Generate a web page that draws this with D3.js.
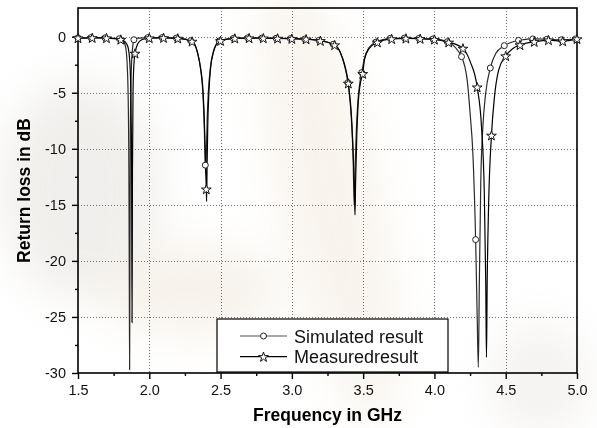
<!DOCTYPE html>
<html>
<head>
<meta charset="utf-8">
<script src="https://cdn.jsdelivr.net/npm/d3@7"></script>
<style>
    body { margin: 0; background: #fff; }
    svg { display: block; font-family: "Liberation Sans", Arial, sans-serif; }
</style>
</head>
<body>
<div id="chart"></div>
<script>
// x axis ticks
const xMajor = [1.5, 2.0, 2.5, 3.0, 3.5, 4.0, 4.5, 5.0];
const xMinor = [1.75, 2.25, 2.75, 3.25, 3.75, 4.25, 4.75];
// y axis ticks
const yMajor = [0, -5, -10, -15, -20, -25, -30];
const yMinor = [-2.5, -7.5, -12.5, -17.5, -22.5, -27.5];

// simulated result (line)
const simFreq = [1.50, 1.60, 1.70, 1.80, 1.82, 1.835, 1.845, 1.852, 1.857, 1.860, 1.862, 1.864, 1.867, 1.871, 1.877, 1.884, 1.892, 1.92, 2.00, 2.10, 2.20, 2.30, 2.34, 2.36, 2.375, 2.385, 2.393, 2.397, 2.401, 2.407, 2.415, 2.43, 2.45, 2.47, 2.50, 2.60, 2.70, 2.80, 2.90, 3.00, 3.10, 3.20, 3.30, 3.34, 3.37, 3.393, 3.418, 3.430, 3.437, 3.443, 3.452, 3.463, 3.478, 3.49, 3.51, 3.54, 3.59, 3.69, 3.79, 3.89, 4.00, 4.09, 4.19, 4.23, 4.25, 4.27, 4.289, 4.30, 4.308, 4.315, 4.325, 4.34, 4.36, 4.392, 4.43, 4.49, 4.59, 4.69, 4.79, 4.89, 5.00];
const simDb = [-0.10, -0.08, -0.10, -0.20, -0.40, -1.0, -2.5, -5.5, -12, -22, -29.7, -20, -9, -4.5, -2.0, -0.9, -0.27, -0.12, -0.08, -0.08, -0.12, -0.40, -1.5, -2.9, -4.8, -7.8, -11.46, -12.2, -10, -7, -4.8, -2.6, -1.3, -0.65, -0.33, -0.15, -0.10, -0.12, -0.14, -0.17, -0.22, -0.35, -0.72, -1.4, -2.6, -4.1, -7.5, -11, -15.0, -12, -8.5, -5.8, -4.0, -3.2, -1.9, -1.0, -0.48, -0.15, -0.12, -0.15, -0.20, -0.45, -1.78, -3.9, -6.8, -10.5, -18.1, -25, -29.5, -22, -13, -8, -5, -2.79, -1.5, -0.80, -0.33, -0.20, -0.22, -0.28, -0.20];
// simulated result (circle markers)
const simMarkFreq = [1.50, 1.59, 1.69, 1.79, 1.892, 1.99, 2.09, 2.19, 2.29, 2.393, 2.49, 2.59, 2.69, 2.79, 2.89, 2.99, 3.09, 3.19, 3.29, 3.393, 3.49, 3.59, 3.69, 3.79, 3.89, 3.99, 4.09, 4.19, 4.289, 4.392, 4.49, 4.59, 4.69, 4.79, 4.89, 4.99];
const simMarkDb = [-0.10, -0.08, -0.10, -0.18, -0.27, -0.08, -0.08, -0.12, -0.36, -11.46, -0.38, -0.15, -0.10, -0.12, -0.14, -0.17, -0.21, -0.33, -0.68, -4.1, -3.2, -0.48, -0.15, -0.12, -0.15, -0.20, -0.45, -1.78, -18.1, -2.79, -0.80, -0.33, -0.20, -0.22, -0.28, -0.20];

// measured result (line)
const measFreq = [1.50, 1.60, 1.70, 1.80, 1.83, 1.85, 1.862, 1.870, 1.876, 1.879, 1.882, 1.886, 1.892, 1.90, 1.92, 1.95, 2.00, 2.10, 2.20, 2.30, 2.34, 2.36, 2.375, 2.385, 2.392, 2.397, 2.400, 2.402, 2.405, 2.41, 2.418, 2.43, 2.45, 2.47, 2.50, 2.60, 2.70, 2.80, 2.90, 3.00, 3.10, 3.20, 3.30, 3.34, 3.37, 3.396, 3.42, 3.432, 3.440, 3.443, 3.447, 3.455, 3.465, 3.48, 3.497, 3.51, 3.54, 3.60, 3.70, 3.80, 3.90, 4.00, 4.10, 4.20, 4.25, 4.30, 4.33, 4.35, 4.36, 4.365, 4.37, 4.38, 4.40, 4.42, 4.45, 4.50, 4.55, 4.60, 4.70, 4.80, 4.90, 5.00];
const measDb = [-0.12, -0.10, -0.12, -0.25, -0.45, -0.9, -2.0, -4.5, -12, -25.5, -12, -5, -2.5, -1.49, -0.6, -0.25, -0.12, -0.10, -0.15, -0.42, -1.5, -2.8, -4.5, -7, -10, -12.5, -13.6, -14.7, -12, -8, -5, -2.8, -1.4, -0.7, -0.36, -0.15, -0.12, -0.13, -0.15, -0.18, -0.22, -0.36, -0.74, -1.4, -2.5, -4.16, -7.5, -11, -14.5, -15.9, -13, -9, -6, -4.2, -3.3, -2.0, -1.1, -0.50, -0.20, -0.15, -0.18, -0.25, -0.50, -1.04, -2.2, -4.5, -8, -14, -22, -28.6, -22, -15, -8.8, -5.5, -3.0, -1.72, -1.05, -0.74, -0.45, -0.30, -0.40, -0.20];
// measured result (star markers)
const measMarkFreq = [1.5, 1.6, 1.7, 1.8, 1.9, 2.0, 2.1, 2.2, 2.3, 2.4, 2.5, 2.6, 2.7, 2.8, 2.9, 3.0, 3.1, 3.2, 3.3, 3.396, 3.497, 3.6, 3.7, 3.8, 3.9, 4.0, 4.1, 4.2, 4.3, 4.4, 4.5, 4.6, 4.7, 4.8, 4.9, 5.0];
const measMarkDb = [-0.12, -0.10, -0.12, -0.25, -1.49, -0.12, -0.10, -0.15, -0.42, -13.6, -0.36, -0.15, -0.12, -0.13, -0.15, -0.18, -0.22, -0.36, -0.74, -4.16, -3.3, -0.50, -0.20, -0.15, -0.18, -0.25, -0.50, -1.04, -4.5, -8.8, -1.72, -0.74, -0.45, -0.30, -0.40, -0.20];

const seriesNames = ["Simulated result", "Measuredresult"];

const paintChart = () => {
    const width = 597, height = 428;
    const left = 78, right = 577, top = 8, bottom = 373;

    const svg = d3.select("#chart").append("svg")
        .attr("width", width)
        .attr("height", height);

    // faint watermark behind the plot
    const defs = svg.append("defs");
    defs.append("filter").attr("id", "blur")
        .attr("x", "-50%").attr("y", "-50%").attr("width", "200%").attr("height", "200%")
        .append("feGaussianBlur").attr("stdDeviation", 22);
    const wm = svg.append("g").attr("filter", "url(#blur)").attr("opacity", 0.35);
    wm.append("ellipse").attr("cx", 80).attr("cy", 190).attr("rx", 80).attr("ry", 110).attr("fill", "#d6d2ca");
    wm.append("ellipse").attr("cx", 190).attr("cy", 290).attr("rx", 90).attr("ry", 45).attr("fill", "#e6dac6");
    wm.append("ellipse").attr("cx", 330).attr("cy", 200).attr("rx", 50).attr("ry", 230)
        .attr("transform", "rotate(-12 330 200)").attr("fill", "#ece0cc");
    wm.append("ellipse").attr("cx", 540).attr("cy", 380).attr("rx", 50).attr("ry", 60).attr("fill", "#e2ded8");

    const x = d3.scaleLinear().domain([1.5, 5.0]).range([left, right]);
    const y = d3.scaleLinear().domain([-30, 2.56]).range([bottom, top]);

    // grid
    const grid = svg.append("g")
        .attr("stroke", "#707070")
        .attr("stroke-width", 1)
        .attr("stroke-dasharray", "1,2");
    grid.selectAll(".gx").data(xMajor.slice(1, -1)).enter().append("line")
        .attr("x1", d => Math.round(x(d)) + 0.5).attr("x2", d => Math.round(x(d)) + 0.5)
        .attr("y1", top).attr("y2", bottom);
    grid.selectAll(".gy").data(yMajor.slice(0, -1)).enter().append("line")
        .attr("x1", left).attr("x2", right)
        .attr("y1", d => Math.round(y(d)) + 0.5).attr("y2", d => Math.round(y(d)) + 0.5);

    // axes
    svg.append("g").attr("transform", `translate(0,${bottom})`)
        .call(d3.axisBottom(x).tickValues(xMajor).tickSize(6).tickSizeOuter(0).tickPadding(6)
            .tickFormat(d => d.toFixed(1)));
    svg.append("g").attr("transform", `translate(0,${bottom})`)
        .call(d3.axisBottom(x).tickValues(xMinor).tickSize(3).tickSizeOuter(0).tickFormat(""));
    svg.append("g").attr("transform", `translate(${left},0)`)
        .call(d3.axisLeft(y).tickValues(yMajor).tickSize(6).tickSizeOuter(0).tickPadding(6)
            .tickFormat(d => String(d)));
    svg.append("g").attr("transform", `translate(${left},0)`)
        .call(d3.axisLeft(y).tickValues(yMinor).tickSize(3).tickSizeOuter(0).tickFormat(""));

    svg.selectAll(".domain").remove();
    svg.selectAll(".tick line").attr("stroke", "#000").attr("stroke-width", 1.4);
    svg.selectAll(".tick text")
        .attr("font-family", "'Liberation Sans', Arial, sans-serif")
        .attr("font-size", 14.5)
        .attr("fill", "#111");

    // frame
    svg.append("rect")
        .attr("x", left).attr("y", top)
        .attr("width", right - left).attr("height", bottom - top)
        .attr("fill", "none").attr("stroke", "#000").attr("stroke-width", 1.6);

    // data
    const simData = simFreq.map((f, i) => [f, simDb[i]]);
    const measData = measFreq.map((f, i) => [f, measDb[i]]);
    const simMarks = simMarkFreq.map((f, i) => [f, simMarkDb[i]]);
    const measMarks = measMarkFreq.map((f, i) => [f, measMarkDb[i]]);

    const line = d3.line()
        .x(d => x(d[0]))
        .y(d => y(d[1]))
        .curve(d3.curveMonotoneX);

    const plot = svg.append("g");
    plot.append("path").datum(simData)
        .attr("d", line).attr("fill", "none")
        .attr("stroke", "#2a2a2a").attr("stroke-width", 1.2);
    plot.append("path").datum(measData)
        .attr("d", line).attr("fill", "none")
        .attr("stroke", "#000").attr("stroke-width", 1.2);

    const star = d3.symbol(d3.symbolStar, 30);

    plot.selectAll(".sm").data(simMarks).enter().append("circle")
        .attr("cx", d => x(d[0])).attr("cy", d => y(d[1])).attr("r", 3)
        .attr("fill", "#fff").attr("stroke", "#222").attr("stroke-width", 1);
    plot.selectAll(".mm").data(measMarks).enter().append("path")
        .attr("d", star)
        .attr("transform", d => `translate(${x(d[0])},${y(d[1]) + 0.5})`)
        .attr("fill", "#fff").attr("stroke", "#111").attr("stroke-width", 1);

    // axis titles
    svg.append("text")
        .attr("x", (left + right) / 2).attr("y", 421)
        .attr("text-anchor", "middle")
        .attr("font-size", 17.5).attr("font-weight", "bold")
        .text("Frequency in GHz");
    svg.append("text")
        .attr("transform", `translate(30,${(top + bottom) / 2}) rotate(-90)`)
        .attr("text-anchor", "middle")
        .attr("font-size", 17.5).attr("font-weight", "bold")
        .text("Return loss in dB");

    // legend
    const legend = svg.append("g");
    legend.append("rect")
        .attr("x", 217).attr("y", 319).attr("width", 231).attr("height", 53)
        .attr("fill", "#fff").attr("stroke", "#000").attr("stroke-width", 1.2);
    const rows = legend.selectAll(".row").data(seriesNames).enter().append("g")
        .attr("transform", (d, i) => `translate(0,${336 + i * 20.7})`);
    rows.append("line")
        .attr("x1", 240).attr("x2", 287)
        .attr("stroke", (d, i) => i === 0 ? "#555" : "#000").attr("stroke-width", 1.2);
    rows.filter((d, i) => i === 0).append("circle")
        .attr("cx", 263.5).attr("r", 3)
        .attr("fill", "#fff").attr("stroke", "#222");
    rows.filter((d, i) => i === 1).append("path")
        .attr("d", star).attr("transform", "translate(263.5,0.5)")
        .attr("fill", "#fff").attr("stroke", "#111");
    rows.append("text")
        .attr("x", 294).attr("y", 6.5)
        .attr("font-size", 18).attr("fill", "#111")
        .text(d => d);
};

document.addEventListener("DOMContentLoaded", paintChart);
</script>
</body>
</html>
